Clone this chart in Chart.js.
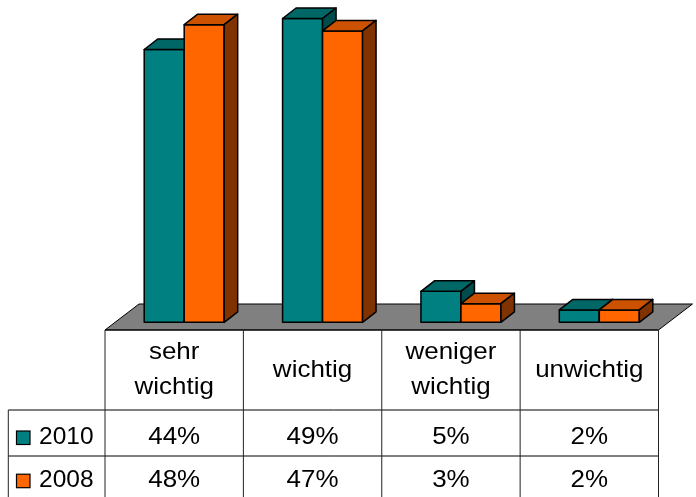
<!DOCTYPE html>
<html>
<head>
<meta charset="utf-8">
<style>
  html, body { margin: 0; padding: 0; background: #ffffff; overflow: hidden; }
  #wrap { position: relative; width: 696px; height: 497px; }
</style>
<script src="https://cdn.jsdelivr.net/npm/chart.js@4/dist/chart.umd.min.js"></script>
</head>
<body>
<div id="wrap"><canvas id="c" width="696" height="497"></canvas></div>
<script>
// Categories (header cells, one entry per line of text)
const categories = [["sehr", "wichtig"], ["wichtig"], ["weniger", "wichtig"], ["unwichtig"]];
// Series names and values in percent
const seriesNames = ["2010", "2008"];
const values2010 = [44, 49, 5, 2];
const values2008 = [48, 47, 3, 2];

// Face colours for the 3D boxes: front, top, side
const faceColors = [
  { front: "#008080", top: "#006666", side: "#004c4c" },
  { front: "#FF6600", top: "#CC5200", side: "#803300" }
];

const FONT = "24.5px 'Liberation Sans', Arial, sans-serif";
const TEXT_STRETCH = 1.06;                 // slightly wide lettering in the table cells
const FLOOR_DEPTH = { dx: 34, dy: -26 };   // depth of the grey floor
const BAR_DEPTH = { dx: 13.5, dy: -10.5 }; // depth of each box
const BAR_SHIFT = { dx: 10, dy: -7.7 };    // boxes stand this far behind the floor's front edge

function floorFront(chart) {
  const a = chart.chartArea;
  return { left: a.left - BAR_SHIFT.dx, right: a.right - BAR_SHIFT.dx, y: a.bottom - BAR_SHIFT.dy };
}

function poly(ctx, pts, fill) {
  ctx.beginPath();
  ctx.moveTo(pts[0][0], pts[0][1]);
  for (let i = 1; i < pts.length; i++) ctx.lineTo(pts[i][0], pts[i][1]);
  ctx.closePath();
  ctx.fillStyle = fill;
  ctx.fill();
  ctx.stroke();
}

// draw text, optionally stretched horizontally around its anchor
function text(ctx, s, x, y, align, stretch) {
  ctx.save();
  ctx.translate(x, y);
  ctx.scale(stretch, 1);
  ctx.textAlign = align;
  ctx.fillText(s, 0, 0);
  ctx.restore();
}

const box3d = {
  id: "box3d",
  beforeDatasetsDraw(chart) {
    const ctx = chart.ctx;
    const f = floorFront(chart);
    ctx.save();
    ctx.strokeStyle = "#000";
    ctx.lineWidth = 1;
    poly(ctx, [
      [f.left, f.y],
      [f.left + FLOOR_DEPTH.dx, f.y + FLOOR_DEPTH.dy],
      [f.right + FLOOR_DEPTH.dx, f.y + FLOOR_DEPTH.dy],
      [f.right, f.y]
    ], "#808080");
    ctx.restore();
  },
  afterDatasetsDraw(chart) {
    const ctx = chart.ctx;
    ctx.save();
    ctx.strokeStyle = "#000";
    ctx.lineWidth = 1.5;
    ctx.lineJoin = "round";
    const n = chart.data.labels.length;
    for (let i = 0; i < n; i++) {
      for (let d = 0; d < chart.data.datasets.length; d++) {
        const el = chart.getDatasetMeta(d).data[i];
        const c = faceColors[d];
        const L = el.x - el.width / 2, R = el.x + el.width / 2;
        const T = el.y, B = el.base;
        const dx = BAR_DEPTH.dx, dy = BAR_DEPTH.dy;
        poly(ctx, [[L, B], [L, T], [R, T], [R, B]], c.front);
        poly(ctx, [[L, T], [L + dx, T + dy], [R + dx, T + dy], [R, T]], c.top);
        poly(ctx, [[R, T], [R + dx, T + dy], [R + dx, B + dy], [R, B]], c.side);
      }
    }
    ctx.restore();
  },
  afterDraw(chart) {
    const ctx = chart.ctx;
    const f = floorFront(chart);
    const colW = (f.right - f.left) / categories.length;
    const top = f.y;             // table top = floor front edge
    const headBottom = top + 80;
    const row1Bottom = headBottom + 46;
    const bottom = 497;
    const legendLeft = 8.3;

    ctx.save();
    // grid lines
    ctx.lineWidth = 1;
    ctx.strokeStyle = "#000";
    ctx.beginPath();
    ctx.moveTo(f.left, top); ctx.lineTo(f.right, top);
    ctx.moveTo(legendLeft, headBottom); ctx.lineTo(f.right, headBottom);
    ctx.moveTo(legendLeft, row1Bottom); ctx.lineTo(f.right, row1Bottom);
    ctx.stroke();
    ctx.strokeStyle = "#222";
    ctx.beginPath();
    ctx.moveTo(legendLeft, headBottom); ctx.lineTo(legendLeft, bottom);
    for (let i = 0; i <= categories.length; i++) {
      const x = f.left + i * colW;
      ctx.moveTo(x, top); ctx.lineTo(x, bottom);
    }
    ctx.stroke();

    // header labels
    ctx.fillStyle = "#000";
    ctx.font = FONT;
    ctx.textBaseline = "alphabetic";
    const lineH = 34.5;
    categories.forEach((lines, i) => {
      const cx = f.left + (i + 0.5) * colW;
      const first = top + 46.7 - (lines.length - 1) * lineH / 2;
      lines.forEach((t, k) => text(ctx, t, cx, first + k * lineH, "center", TEXT_STRETCH));
    });

    // value rows with legend keys
    const rows = [values2010, values2008];
    const baselines = [headBottom + 33.5, row1Bottom + 30.7];
    rows.forEach((vals, r) => {
      const b = baselines[r];
      ctx.fillStyle = "#000";
      vals.forEach((v, i) => text(ctx, v + "%", f.left + (i + 0.5) * colW, b, "center", TEXT_STRETCH));
      // legend key
      ctx.fillStyle = faceColors[r].front;
      ctx.fillRect(16.5, b - 12.5, 13.5, 13.5);
      ctx.strokeStyle = "#000";
      ctx.lineWidth = 1.2;
      ctx.strokeRect(16.5, b - 12.5, 13.5, 13.5);
      ctx.fillStyle = "#000";
      text(ctx, seriesNames[r], 39, b, "left", 1);
    });
    ctx.restore();
  }
};

new Chart(document.getElementById("c"), {
  type: "bar",
  data: {
    labels: categories,
    datasets: [
      { label: seriesNames[0], data: values2010, backgroundColor: faceColors[0].front, borderWidth: 0 },
      { label: seriesNames[1], data: values2008, backgroundColor: faceColors[1].front, borderWidth: 0 }
    ]
  },
  options: {
    responsive: false,
    animation: false,
    devicePixelRatio: 1,
    layout: { padding: { left: 115, right: 27.5, top: 12.3, bottom: 174.7 } },
    datasets: { bar: { categoryPercentage: 0.578, barPercentage: 1 } },
    scales: {
      x: { display: false, grid: { display: false } },
      y: { display: false, min: 0, max: 50, grid: { display: false } }
    },
    plugins: { legend: { display: false }, tooltip: { enabled: false } }
  },
  plugins: [box3d]
});
</script>
</body>
</html>
